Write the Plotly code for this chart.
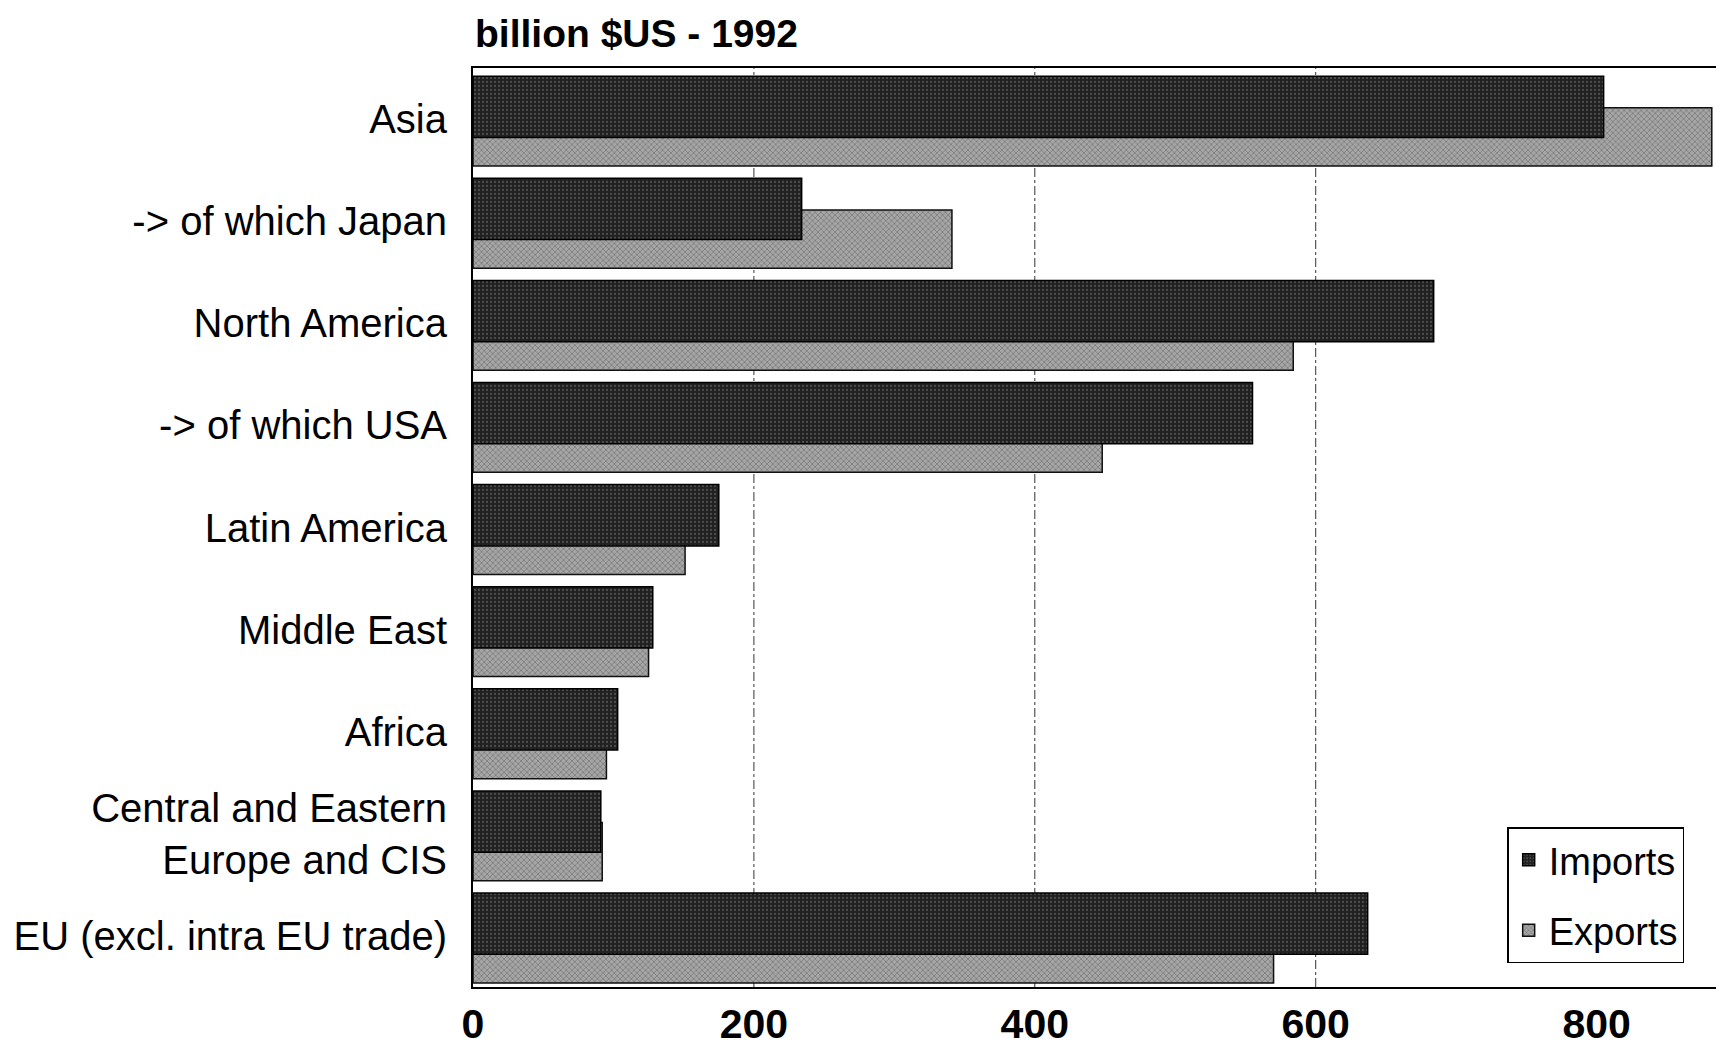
import plotly.graph_objects as go

# Trade of the EU partner regions, billion $US, 1992
regions = [
    "Asia",
    "-> of which Japan",
    "North America",
    "-> of which USA",
    "Latin America",
    "Middle East",
    "Africa",
    "Central and Eastern<br>Europe and CIS",
    "EU (excl. intra EU trade)",
]
imports = [805, 234, 684, 555, 175, 128, 103, 91, 637]
exports = [882, 341, 584, 448, 151, 125, 95, 92, 570]
x_ticks = [0, 200, 400, 600, 800]
grid_lines = [200, 400, 600]

FONT = "Liberation Sans, Arial, sans-serif"

fig = go.Figure()

# Exports sit behind, shifted down within each category slot
fig.add_trace(go.Bar(
    name="Exports",
    y=regions,
    x=exports,
    orientation="h",
    offset=-0.11,
    width=0.57,
    legendrank=2,
    legendgroup="exp",
    marker=dict(
        color="#9a9a9a",
        line=dict(color="#111111", width=1.5),
        pattern=dict(shape="x", fgcolor="#4a4a4a", bgcolor="#a6a6a6",
                     size=4, solidity=0.35),
    ),
))

# Imports drawn on top, in the upper part of the slot
fig.add_trace(go.Bar(
    name="Imports",
    y=regions,
    x=imports,
    orientation="h",
    offset=-0.42,
    width=0.6,
    legendrank=1,
    legendgroup="imp",
    marker=dict(
        color="#262626",
        line=dict(color="#000000", width=1.5),
        pattern=dict(shape=".", fgcolor="#7a7a7a", bgcolor="#202020",
                     size=4, solidity=0.25),
    ),
))

# Dash-dot reference lines behind the bars
shapes = [
    dict(type="line", xref="x", yref="paper", x0=g, x1=g, y0=0, y1=1,
         layer="below", line=dict(color="#333333", width=1, dash="dashdot"))
    for g in grid_lines
]

fig.update_layout(
    width=1725,
    height=1047,
    barmode="overlay",
    plot_bgcolor="white",
    paper_bgcolor="white",
    margin=dict(l=473, r=9, t=68, b=60),
    font=dict(family=FONT, color="#000000"),
    shapes=shapes,
    legend=dict(
        x=0.832, y=0.174, xanchor="left", yanchor="top",
        bordercolor="#000000", borderwidth=1.5,
        bgcolor="white",
        font=dict(family=FONT, size=38),
        tracegroupgap=18,
        traceorder="grouped",
        itemwidth=30,
    ),
    annotations=[dict(
        text="<b>billion $US - 1992</b>",
        xref="paper", yref="paper",
        x=0, y=1.038, xanchor="left", yanchor="middle",
        showarrow=False,
        font=dict(family=FONT, size=39, color="#000000"),
    )],
)

fig.update_xaxes(
    range=[0, 885],
    tickvals=x_ticks,
    ticktext=[f"<b>{v}</b>" for v in x_ticks],
    tickfont=dict(family=FONT, size=41),
    ticks="",
    ticklabelstandoff=0,
    automargin=False,
    showline=True, linecolor="#000000", linewidth=2, mirror=True,
    showgrid=False,
    zeroline=False,
)

fig.update_yaxes(
    autorange="reversed",
    tickfont=dict(family=FONT, size=40),
    ticks="",
    ticklabelstandoff=16,
    automargin=False,
    showline=True, linecolor="#000000", linewidth=2,
    showgrid=False,
)

fig.write_html("out.html")
